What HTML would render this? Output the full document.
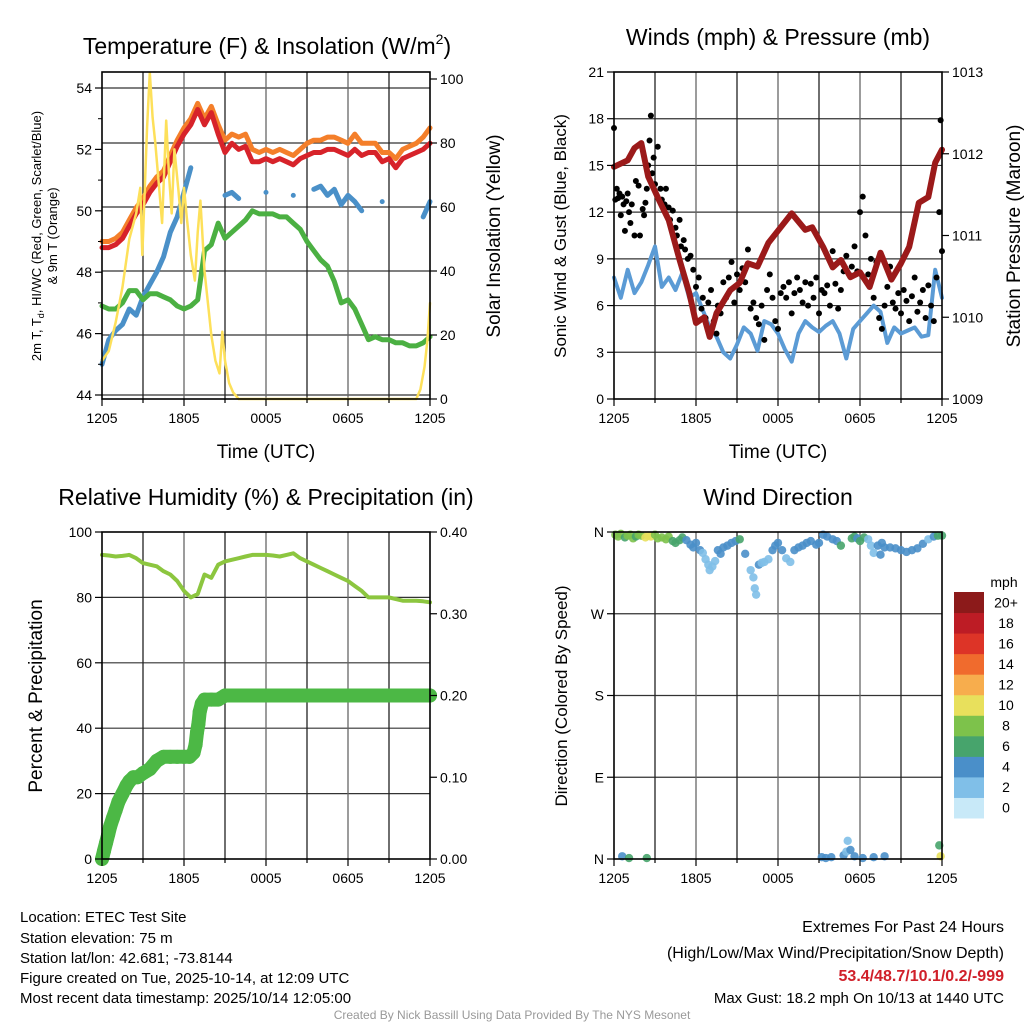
<!DOCTYPE html>
<html><head><meta charset="utf-8">
<style>
body{margin:0;background:#fff;}
svg{display:block;font-family:"Liberation Sans",Arial,sans-serif;}
</style></head>
<body>
<svg id="fig" width="1024" height="1024" viewBox="0 0 1024 1024" xmlns="http://www.w3.org/2000/svg">
<rect width="1024" height="1024" fill="#fff"/>
<g id="layer"></g>
<!-- Titles -->
<text x="267" y="54" font-size="23" text-anchor="middle">Temperature (F) &amp; Insolation (W/m<tspan font-size="14" dy="-10">2</tspan><tspan dy="10">)</tspan></text>
<text x="778" y="45" font-size="23" text-anchor="middle">Winds (mph) &amp; Pressure (mb)</text>
<text x="266" y="505" font-size="23" text-anchor="middle">Relative Humidity (%) &amp; Precipitation (in)</text>
<text x="778" y="505" font-size="23" text-anchor="middle">Wind Direction</text>
<!-- axis titles -->
<text x="266" y="458" font-size="19" text-anchor="middle">Time (UTC)</text>
<text x="778" y="458" font-size="19" text-anchor="middle">Time (UTC)</text>
<text transform="translate(41,236) rotate(-90)" font-size="13" text-anchor="middle">2m T, T<tspan font-size="9" dy="3">d</tspan><tspan dy="-3">, HI/WC (Red, Green, Scarlet/Blue)</tspan></text>
<text transform="translate(57,236) rotate(-90)" font-size="13" text-anchor="middle">&amp; 9m T (Orange)</text>
<text transform="translate(500,236) rotate(-90)" font-size="19" text-anchor="middle">Solar Insolation (Yellow)</text>
<text transform="translate(566,236) rotate(-90)" font-size="17" text-anchor="middle">Sonic Wind &amp; Gust (Blue, Black)</text>
<text transform="translate(1020,236) rotate(-90)" font-size="19" text-anchor="middle">Station Pressure (Maroon)</text>
<text transform="translate(42,696) rotate(-90)" font-size="19" text-anchor="middle">Percent &amp; Precipitation</text>
<text transform="translate(567,696) rotate(-90)" font-size="17" text-anchor="middle">Direction (Colored By Speed)</text>
<!-- footer -->
<g font-size="15">
<text x="20" y="922">Location: ETEC Test Site</text>
<text x="20" y="943">Station elevation: 75 m</text>
<text x="20" y="963">Station lat/lon: 42.681; -73.8144</text>
<text x="20" y="983">Figure created on Tue, 2025-10-14, at 12:09 UTC</text>
<text x="20" y="1003">Most recent data timestamp: 2025/10/14 12:05:00</text>
</g>
<g font-size="16" text-anchor="end">
<text x="1004" y="932">Extremes For Past 24 Hours</text>
<text x="1004" y="958">(High/Low/Max Wind/Precipitation/Snow Depth)</text>
<text x="1004" y="981" fill="#d0202a" font-weight="bold">53.4/48.7/10.1/0.2/-999</text>
<text x="1004" y="1003" font-size="15">Max Gust: 18.2 mph On 10/13 at 1440 UTC</text>
</g>
<text x="512" y="1019" font-size="12" fill="#999" text-anchor="middle">Created By Nick Bassill Using Data Provided By The NYS Mesonet</text>
</svg>
<script>
// ---- Temperature panel data (t = 0..24 h uniformly spaced) ----
const tempRed = [48.8,48.8,48.9,49.1,49.5,49.9,50.2,50.6,50.9,51.1,51.6,52.1,52.5,52.8,53.3,52.8,53.2,52.5,51.9,52.2,52.0,52.1,51.6,51.6,51.7,51.6,51.7,51.6,51.5,51.7,51.8,51.9,51.9,52.0,52.0,51.9,51.8,52.0,51.8,51.9,51.9,51.6,51.7,51.4,51.7,51.8,51.9,52.0,52.2];
const tempOrange = [49.0,49.0,49.1,49.3,49.7,50.1,50.4,50.8,51.1,51.3,51.8,52.3,52.7,53.0,53.5,53.0,53.4,52.8,52.3,52.5,52.4,52.5,52.0,51.9,52.0,51.9,52.0,51.9,51.8,52.0,52.2,52.3,52.3,52.4,52.4,52.3,52.2,52.5,52.2,52.2,52.2,51.9,51.9,51.7,52.0,52.1,52.2,52.4,52.7];
const tempBlue = [45.0,45.8,46.1,46.3,46.8,46.6,47.2,47.6,48.0,48.5,49.3,49.8,50.6,51.4,null,null,null,null,50.5,50.6,50.4,null,null,null,50.6,null,null,null,50.5,null,null,50.7,50.8,50.5,50.7,50.2,50.5,50.3,50.0,null,null,50.3,null,null,null,null,null,49.8,50.3];
const tempGreen = [46.9,46.8,46.8,47.0,47.4,47.4,47.1,47.3,47.3,47.2,47.1,46.9,46.8,46.9,47.1,48.7,48.9,49.6,49.1,49.3,49.5,49.7,50.0,49.9,49.9,49.9,49.8,49.8,49.6,49.4,49.0,48.7,48.4,48.2,47.7,47.0,47.1,46.8,46.3,45.8,45.9,45.8,45.8,45.7,45.7,45.6,45.6,45.7,45.9];
const solarT = [0,0.5,1,1.5,2,2.5,2.8,2.95,3.3,3.5,3.7,3.9,4.2,4.4,4.7,4.9,5.1,5.3,5.6,5.8,6.0,6.2,6.5,6.8,7.0,7.2,7.5,7.8,8.0,8.3,8.6,8.8,9.0,9.3,9.6,10,12,16,20,23,23.3,23.6,23.8,24];
const solarV = [12,15,24,35,50,58,66,45,85,102,88,80,65,55,87,70,58,78,65,55,66,57,45,37,52,62,40,28,20,12,8,21,12,5,2,0,0,0,0,0,3,10,18,30];
const tempTicks = [44,46,48,50,52,54];
const solarTicks = [0,20,40,60,80,100];
const timeTicks = ["1205","1805","0005","0605","1205"];
// ---- Winds panel ----
const windBlue = [7.8,6.5,8.3,6.8,7.5,8.6,9.8,7.2,7.8,7.0,8.1,6.5,6.8,5.7,4.6,4.0,3.0,2.6,3.5,4.6,4.2,3.1,5.0,4.8,4.2,3.2,2.4,4.2,5.0,4.6,4.3,4.7,5.0,4.2,2.6,4.5,5.0,5.5,6.0,5.6,3.6,4.6,4.2,4.4,4.6,4.0,4.1,8.3,6.5];
const presT = [0,1,1.5,2,2.5,3.3,4,4.8,5.5,6,6.6,7,7.5,8.5,9.2,9.8,10.5,11.3,12.2,13,14,14.5,15.3,16,16.6,17.3,18,18.7,19.5,20.3,21,21.6,22.3,23,23.5,24];
const presV = [1011.84,1011.92,1012.07,1012.13,1011.72,1011.43,1011.19,1010.70,1010.30,1009.93,1010.0,1009.76,1010.05,1010.33,1010.42,1010.66,1010.62,1010.91,1011.10,1011.27,1011.07,1011.1,1010.86,1010.61,1010.7,1010.49,1010.55,1010.37,1010.79,1010.46,1010.66,1010.86,1011.40,1011.47,1011.89,1012.05];
const gustT = [0.0,0.1,0.2,0.3,0.4,0.5,0.6,0.7,0.8,0.9,1.0,1.1,1.2,1.3,1.5,1.6,1.8,1.9,2.1,2.2,2.3,2.4,2.5,2.6,2.7,2.8,2.9,3.0,3.2,3.4,3.5,3.7,3.8,4.0,4.1,4.3,4.5,4.6,4.8,4.9,5.1,5.2,5.4,5.6,5.8,6.0,6.2,6.4,6.5,6.7,6.9,7.1,7.3,7.5,7.6,7.8,8.0,8.2,8.4,8.6,8.8,9.0,9.2,9.4,9.6,9.8,10.0,10.2,10.4,10.6,10.8,11.0,11.2,11.4,11.6,11.8,12.0,12.2,12.4,12.6,12.8,13.0,13.2,13.4,13.6,13.8,14.0,14.2,14.4,14.6,14.8,15.0,15.2,15.4,15.6,15.8,16.0,16.2,16.4,16.6,16.8,17.0,17.2,17.4,17.6,17.8,18.0,18.2,18.4,18.6,18.8,19.0,19.2,19.4,19.6,19.8,20.0,20.2,20.4,20.6,20.8,21.0,21.2,21.4,21.6,21.8,22.0,22.2,22.4,22.6,22.8,23.0,23.2,23.4,23.6,23.8,23.9,24.0];
const gustV = [17.4,12.8,13.5,12.9,13.2,11.8,13.0,12.5,10.8,12.7,13.2,12.0,11.3,12.5,10.5,14.0,13.7,10.5,12.2,11.8,12.6,13.5,15.0,16.6,18.2,14.5,15.5,13.8,16.2,13.5,12.8,12.5,13.5,12.3,11.5,12.1,11.0,10.5,11.5,9.8,10.2,9.6,9.0,9.2,8.3,7.2,7.8,5.8,6.5,5.2,6.2,7.0,5.0,4.2,6.0,5.5,7.5,6.5,7.8,8.8,6.2,8.0,7.0,8.4,7.5,9.6,5.8,6.2,5.2,4.8,6.0,3.8,7.0,8.0,6.5,5.0,4.5,6.8,7.2,6.5,7.5,5.5,6.8,7.8,7.0,6.2,7.5,6.0,7.4,6.5,7.8,5.5,7.0,6.8,7.3,6.0,9.5,7.4,5.8,7.0,8.2,9.2,8.0,8.5,9.8,8.2,12.0,13.0,10.5,8.0,9.0,6.5,8.8,5.2,4.5,6.0,7.2,8.5,6.2,5.8,6.8,5.5,7.0,6.3,5.0,6.6,7.8,5.6,6.2,7.0,5.2,7.3,6.0,5.0,7.8,12.0,17.9,9.5];
const windTicks = [0,3,6,9,12,15,18,21];
const presTicks = [1009,1010,1011,1012,1013];
// ---- RH panel ----
const rhV = [93,92.8,92.5,92.7,93,92,90.5,90,89.5,88,87,85,82,80,81,87,86,90,91,91.5,92,92.5,93,93,93,92.8,92.5,93,93.5,92,91,90,89,88,87,86,85,83.5,82,80,80,80,80,79.5,79,79,79,78.8,78.5];
const precipT = [0,0.15,0.3,0.45,0.6,0.8,1,1.2,1.5,1.8,2,2.3,2.6,3,3.5,4,4.5,5,5.5,6,6.4,6.7,6.85,6.95,7.05,7.15,7.3,7.5,8,8.5,9,10,12,14,16,18,20,22,24];
const precipV = [0,0.01,0.02,0.03,0.04,0.05,0.06,0.07,0.08,0.09,0.095,0.10,0.10,0.105,0.11,0.12,0.125,0.125,0.125,0.125,0.125,0.13,0.14,0.155,0.165,0.18,0.19,0.195,0.195,0.195,0.2,0.2,0.2,0.2,0.2,0.2,0.2,0.2,0.2];
const rhTicks = [0,20,40,60,80,100];
const precipTicks = ["0.00","0.10","0.20","0.30","0.40"];
// ---- Wind direction panel ----
const dirT = [0.1,0.3,0.5,0.8,1.0,1.2,1.4,1.6,1.8,2.0,2.3,2.5,2.7,3.0,3.2,3.5,3.8,4.0,4.3,4.5,4.8,5.0,5.3,5.6,5.8,6.0,6.3,6.5,6.7,6.9,7.0,7.2,7.4,7.6,7.8,8.0,8.3,8.6,8.9,9.2,9.6,10.0,10.2,10.3,10.4,10.6,10.8,11.0,11.3,11.6,11.8,12.0,12.3,12.6,12.9,13.2,13.5,13.8,14.1,14.4,14.8,15.0,15.3,15.6,16.0,16.3,16.6,17.4,17.6,17.8,18.0,18.3,18.6,18.8,19.0,19.3,19.5,19.6,19.8,20.2,20.6,21.0,21.4,21.8,22.2,22.6,23.0,23.4,23.7,24.0,0.6,1.1,2.4,15.2,15.5,15.9,16.8,17.0,17.1,17.3,17.6,18.2,19.0,19.8,23.8,23.9];
const dirDeg = [357,355,358,354,356,357,353,355,357,356,354,356,355,357,353,354,352,355,350,348,351,354,351,346,343,348,340,337,330,324,318,322,328,340,336,343,345,348,350,352,336,318,310,298,291,324,326,327,330,340,345,348,340,331,327,340,343,345,348,350,346,348,357,355,352,350,345,353,355,353,350,354,352,345,337,345,335,348,343,343,342,340,338,340,342,347,352,355,356,356,3,1,1,2,1,2,4,8,20,10,3,1,2,3,15,3];
const dirSpd = [8,7,8,6,7,8,8,6,7,8,10,10,9,7,8,8,8,7,6,6,6,5,4,4,4,4,3,2,2,2,2,2,2,4,4,3,4,4,4,6,4,2,2,2,2,4,2,2,2,4,4,4,4,2,2,4,4,4,4,4,4,4,4,4,4,4,6,6,6,4,6,6,2,2,2,4,4,4,4,4,4,4,4,4,4,4,2,4,6,6,4,6,6,4,4,4,4,2,2,4,4,4,4,4,6,10];
const dirLabels = ["N","E","S","W","N"];
const speedBins = ["0","2","4","6","8","10","12","14","16","18","20+"];
const speedColors = ["#c8e9f8","#80bfe8","#4a8fc9","#47a46c","#7dc24b","#e8e05c","#f7ad4d","#f06b2d","#dd3427","#bd1c25","#8c1a1a"];

const NS="http://www.w3.org/2000/svg";
const layer=document.getElementById('layer');
function el(tag,attrs,parent){const e=document.createElementNS(NS,tag);for(const k in attrs)e.setAttribute(k,attrs[k]);(parent||layer).appendChild(e);return e;}
function lin(d0,d1,r0,r1){return v=>r0+(v-d0)/(d1-d0)*(r1-r0);}
function uniT(arr){return arr.map((_,i)=>i*24/(arr.length-1));}

function frame(x0,y0,x1,y1,name,hLines){
  hLines.forEach(y=>{const l=el('line',{x1:x0,x2:x1,y1:y,y2:y,stroke:'#333','stroke-width':1.2});
    
    });
  for(let i=1;i<8;i++){const x=x0+(x1-x0)*i/8;const l=el('line',{x1:x,x2:x,y1:y0,y2:y1,stroke:i%2?'#222':'#666','stroke-width':1.3});
    
    }
}
function border(x0,y0,x1,y1,name){const r=el('rect',{x:x0,y:y0,width:x1-x0,height:y1-y0,fill:'none',stroke:'#000','stroke-width':1.6});
  
  }
function xTicks(x0,x1,y1,name){
  for(let i=0;i<=8;i++){const x=x0+(x1-x0)*i/8;el('line',{x1:x,x2:x,y1:y1,y2:y1+(i%2?4:7),stroke:'#000','stroke-width':1.2});}
  timeTicks.forEach((s,i)=>{const t=el('text',{x:x0+(x1-x0)*i/4,y:y1+24,'font-size':14,'text-anchor':'middle'});t.textContent=s;
    
    });
}
function yTicksLeft(vals,sc,x0,name,labels){vals.forEach((v,i)=>{const y=sc(v);el('line',{x1:x0-7,x2:x0,y1:y,y2:y,stroke:'#000','stroke-width':1.2});
  const t=el('text',{x:x0-10,y:y+5,'font-size':14,'text-anchor':'end'});t.textContent=labels?labels[i]:v;
  
  });}
function yTicksRight(vals,sc,x1,name,labels){vals.forEach((v,i)=>{const y=sc(v);el('line',{x1:x1,x2:x1+7,y1:y,y2:y,stroke:'#000','stroke-width':1.2});
  const t=el('text',{x:x1+10,y:y+5,'font-size':14,'text-anchor':'start'});t.textContent=labels?labels[i]:v;
  
  });}
function line(ts,vs,sx,sy,color,w,name){
  let d='';let seg=[];
  const flush=()=>{if(seg.length===1)seg.push(seg[0]);if(seg.length)d+='M'+seg.map(p=>p[0].toFixed(1)+' '+p[1].toFixed(1)).join(' L');seg=[];};
  ts.forEach((t,i)=>{if(vs[i]===null){flush();}else seg.push([sx(t),sy(vs[i])]);});flush();
  const p=el('path',{d:d,fill:'none',stroke:color,'stroke-width':w,'stroke-linejoin':'round','stroke-linecap':'round'});
  
  
}

// ===== Panel 1 =====
{const x0=102,x1=430,y0=72,y1=399;
 const sx=lin(0,24,x0,x1), sy=lin(44,54,395,88), ss=lin(0,100,399,79);
 frame(x0,y0,x1,y1,'temp',[sy(54),ss(80),ss(60),ss(40),ss(20),sy(44)]);
 const tt=uniT(tempRed);
 line(tt,tempOrange,sx,sy,'#f47f2a',5,'series-9m-temp');
 line(tt,tempRed,sx,sy,'#d7232a',5,'series-2m-temp');
 line(uniT(tempBlue),tempBlue,sx,sy,'#4a90c8',5,'series-hi-wc');
 line(uniT(tempGreen),tempGreen,sx,sy,'#4bb042',5,'series-dewpoint');
 line(solarT,solarV,sx,ss,'#fde05a',2.5,'series-solar');
 border(x0,y0,x1,y1,'temp');
 xTicks(x0,x1,y1,'temp');
 yTicksLeft(tempTicks,sy,x0,'temp');
 for(let v=45;v<=53;v+=2)el('line',{x1:x0-4,x2:x0,y1:sy(v),y2:sy(v),stroke:'#000'});
 yTicksRight(solarTicks,ss,x1,'solar');
}
// ===== Panel 2 =====
{const x0=614,x1=942,y0=72,y1=399;
 const sx=lin(0,24,x0,x1), sy=lin(0,21,y1,y0), sp=lin(1009,1013,y1,y0);
 frame(x0,y0,x1,y1,'winds',[sy(18),sy(15),sy(12),sy(9),sy(6),sy(3)]);
 line(uniT(windBlue),windBlue,sx,sy,'#5b9bd5',4,'series-sonic-wind');
 gustT.forEach((t,i)=>{const c=el('circle',{cx:sx(t),cy:sy(gustV[i]),r:3,fill:'#000'});
   
   });
 line(presT,presV,sx,sp,'#9b1a1a',6,'series-pressure');
 border(x0,y0,x1,y1,'winds');
 xTicks(x0,x1,y1,'winds');
 yTicksLeft(windTicks,sy,x0,'winds');
 yTicksRight(presTicks,sp,x1,'pressure');
}
// ===== Panel 3 =====
{const x0=102,x1=430,y0=532,y1=859;
 const sx=lin(0,24,x0,x1), sy=lin(0,100,y1,y0), sq=lin(0,0.4,y1,y0);
 frame(x0,y0,x1,y1,'rh',[sy(20),sy(40),sy(60),sy(80)]);
 line(uniT(rhV),rhV,sx,sy,'#8cc63f',4,'series-rh');
 precipT.forEach((t,i)=>{const c=el('circle',{cx:sx(t),cy:sq(precipV[i]),r:7,fill:'#4cb845'});
   
   });
 line(precipT,precipV,sx,sq,'#4cb845',14,'series-precip');
 border(x0,y0,x1,y1,'rh');
 xTicks(x0,x1,y1,'rh');
 yTicksLeft(rhTicks,sy,x0,'rh');
 yTicksRight([0,0.1,0.2,0.3,0.4],sq,x1,'precip',precipTicks);
}
// ===== Panel 4 =====
{const x0=614,x1=942,y0=532,y1=859;
 const sx=lin(0,24,x0,x1), sy=lin(0,360,y1,y0);
 frame(x0,y0,x1,y1,'direction',[sy(90),sy(180),sy(270)]);
 dirT.forEach((t,i)=>{const idx=Math.min(10,Math.max(0,Math.round(dirSpd[i]/2)));
   const c=el('circle',{cx:sx(t),cy:sy(dirDeg[i]),r:4.2,fill:speedColors[idx],'fill-opacity':0.9});
   
   });
 border(x0,y0,x1,y1,'direction');
 xTicks(x0,x1,y1,'direction');
 yTicksLeft([0,90,180,270,360],sy,x0,'direction',dirLabels);
 // colorbar
 const cb0=592,cb1=818,h=(cb1-cb0)/speedBins.length;
 speedBins.forEach((s,i)=>{const y=cb1-(i+1)*h;
   const r=el('rect',{x:954,y:y,width:30,height:h+0.5,fill:speedColors[i]});
   
   
   const t=el('text',{x:1006,y:y+h/2+5,'font-size':14,'text-anchor':'middle'});t.textContent=s;
   
   });
 const m=el('text',{x:1004,y:587,'font-size':14,'text-anchor':'middle'});m.textContent='mph';
 
 
}
</script>
</body></html>
